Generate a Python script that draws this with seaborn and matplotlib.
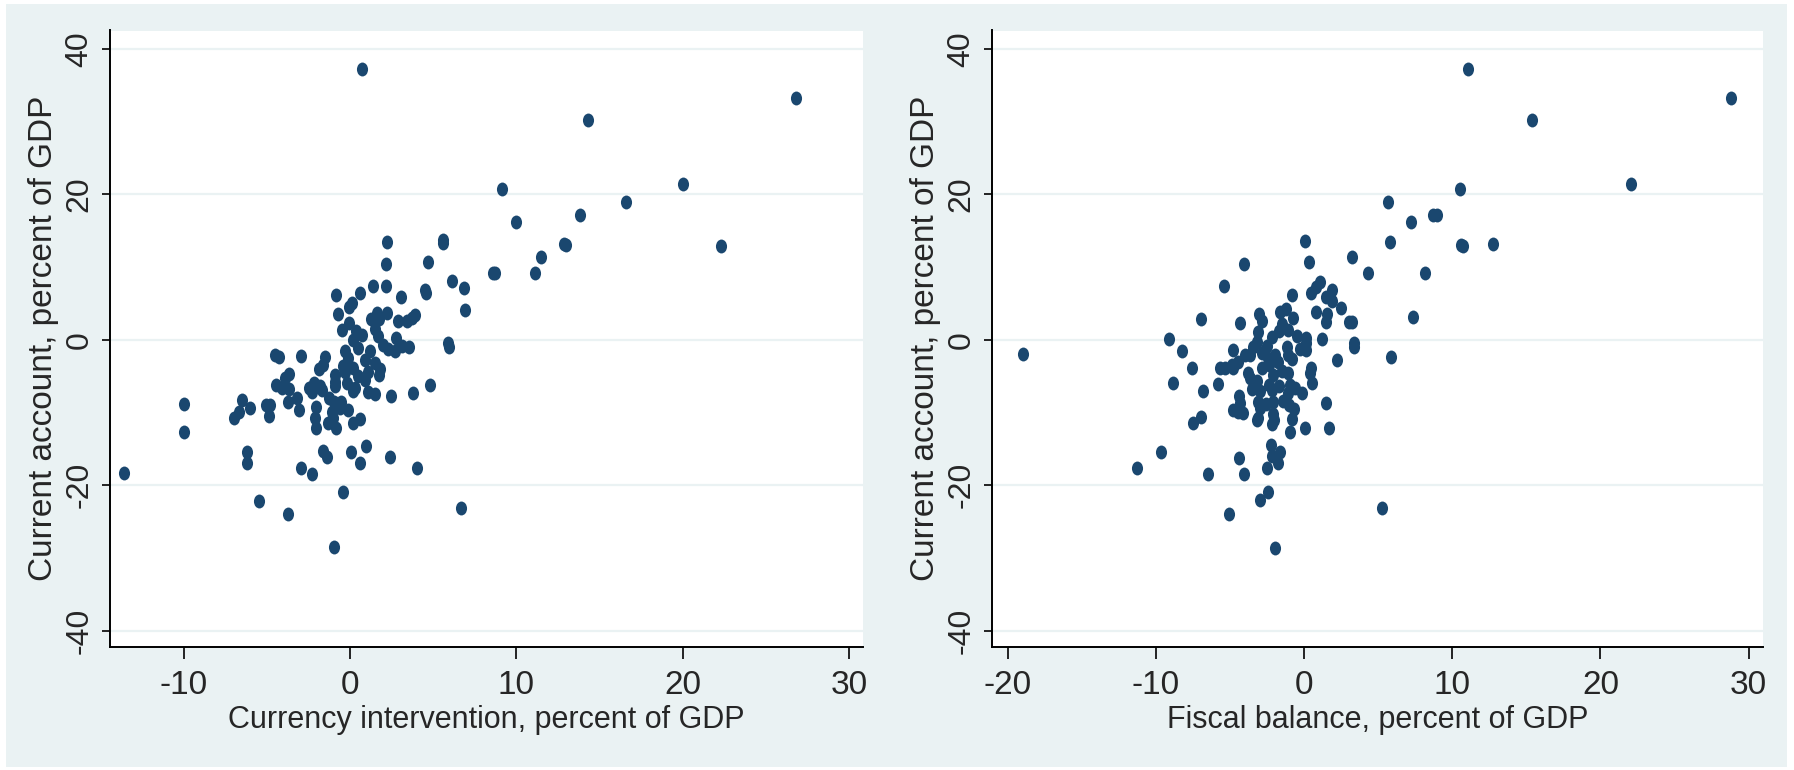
import numpy as np
import pandas as pd
import matplotlib
matplotlib.use("Agg")
import matplotlib.pyplot as plt
from matplotlib.path import Path
from matplotlib.patches import Rectangle
import seaborn as sns

# ---- data ----
# left panel: currency intervention (x) vs current account (y), % of GDP
interv_x = [0.73, 26.8, 14.3, 9.15, 20.0, 16.6, 13.85, 9.95, 2.2, 5.6, 5.6, 12.85, 13.0, 22.3,
            11.5, 4.7, 2.18, 8.6, 8.7, 11.15, 6.15, 6.85, 4.5, 4.55, 6.9, 5.9, 5.95, -13.6,
            -10.0, -10.0, 6.65, -0.95, -3.72, -5.45, -0.4, 4.05, 2.4, 0.95, 0.6, 0.05, -1.38,
            -1.62, -2.95, -2.27, -6.18, -6.18, 2.45, 3.8, 4.8, -0.85, 0.6, 1.4, 2.16, 3.06,
            0.1, -0.05, -0.73, 1.64, 2.2, 1.24, 1.75, -0.05, -0.47, 2.9, 3.4, 3.7, 3.9, 0.35,
            0.7, 1.5, 1.7, 2.75, 3.1, 3.55, 2.3, 2.0, 0.2, 0.5, 1.2, -0.3, -0.1, 0.9, 1.5,
            -0.4, 0.2, 1.1, 1.8, 0.5, 1.75, -0.9, -0.9, -1.5, -1.6, -1.85, -2.95, -4.5, -4.25,
            -3.7, -3.9, -4.45, -4.1, -2.15, -2.45, -1.7, -0.9, 0.3, 1.05, 1.5, 0.2, -3.75,
            -3.2, -3.05, -2.07, -2.1, -2.07, -1.25, -0.95, -0.6, -1.1, -1.05, -1.35, -0.85,
            -0.55, -0.15, 0.15, 0.6, -6.5, -6.0, -6.7, -7.0, -5.05, -4.8, -4.85, -3.7, -2.3,
            -1.8, -0.3, -0.2, 0.9, 2.7]
interv_y = [37.3, 33.3, 30.3, 20.8, 21.4, 19.0, 17.1, 16.2, 13.5, 13.7, 13.3, 13.2, 13.1, 12.9,
            11.4, 10.7, 10.45, 9.2, 9.2, 9.2, 8.1, 7.1, 6.8, 6.4, 4.05, -0.4, -1.0, -18.35,
            -8.8, -12.75, -23.1, -28.5, -24.0, -22.2, -21.0, -17.6, -16.1, -14.6, -17.0,
            -15.45, -16.1, -15.3, -17.6, -18.4, -15.45, -17.0, -7.8, -7.3, -6.2, 6.2, 6.5,
            7.4, 7.4, 5.9, 5.0, 4.5, 3.5, 3.75, 3.75, 2.8, 2.8, 2.35, 1.35, 2.6, 2.6, 3.0,
            3.4, 1.2, 0.6, 1.5, 0.5, 0.2, -0.9, -1.0, -1.3, -0.7, 0.0, -1.2, -1.6, -1.6, -2.5,
            -2.8, -3.2, -3.6, -3.9, -4.4, -4.0, -5.0, -4.8, -4.8, -5.8, -2.4, -3.5, -4.0, -2.3,
            -2.1, -2.4, -4.7, -5.3, -6.2, -6.6, -6.0, -6.7, -6.9, -6.4, -6.6, -7.2, -7.4,
            -7.0, -8.5, -8.0, -9.6, -9.2, -10.8, -12.2, -8.0, -8.6, -9.4, -9.9, -10.8, -11.4,
            -12.1, -8.5, -9.6, -11.5, -10.9, -8.3, -9.4, -9.9, -10.8, -9.0, -9.0, -10.5, -6.8,
            -7.2, -6.3, -4.4, -6.0, -5.5, -1.6]

# right panel: fiscal balance (x) vs current account (y), % of GDP
fiscal_x = [11.06, 28.8, 15.37, 10.55, 22.03, 5.66, 8.7, 8.95, 7.24, 0.08, 5.82, 10.6, 10.7,
            12.75, 3.24, -4.04, 0.31, 4.28, 8.13, -5.4, -0.8, 0.46, 0.78, 1.1, 1.5, 1.85,
            1.85, 2.5, -6.97, 7.36, 0.78, 1.55, 1.5, 3.0, 3.2, -4.3, -9.13, 1.23, 3.39, 3.39,
            5.86, 2.25, -18.99, -8.24, -7.59, -8.86, -6.82, -5.82, -6.97, -7.47, -9.63,
            -11.29, -6.47, -4.39, -4.04, -5.05, -3.0, -2.47, -1.96, 5.28, 0.45, 0.52, 1.5,
            1.7, 0.08, -0.96, -0.85, -0.17, 0.15, 0.1, 0.12, -2.25, -1.6, -2.2, -1.75, -2.5,
            -2.05, -2.15, -3.2, -4.79, -4.45, -4.16, -4.38, -4.3, -5.69, -5.35, -4.79, -4.79,
            -3.05, -2.85, -2.2, -1.65, -1.2, -0.75, -1.5, -1.1, -0.5, -3.1, -3.2, -3.43, -3.66,
            -4.0, -4.45, -4.9, -2.87, -2.43, -1.97, -1.75, -1.18, -1.07, -2.87, -2.4, -2.1,
            -1.5, -1.07, -0.96, -3.66, -3.2, -3.5, -3.0, -2.4, -2.15, -1.7, -1.1, -0.6, -3.1,
            -2.98, -2.6, -2.1, -1.4, -0.7, -1.0, -3.1, -2.08, -3.8, -0.3, 0.4, -1.7, -2.5,
            -0.8]
fiscal_y = [37.3, 33.3, 30.3, 20.8, 21.45, 19.0, 17.1, 17.1, 16.25, 13.6, 13.5, 13.0, 12.85,
            13.2, 11.4, 10.45, 10.7, 9.2, 9.2, 7.4, 6.2, 6.5, 7.3, 8.0, 5.9, 6.85, 5.3, 4.35,
            2.8, 3.2, 3.8, 3.5, 2.5, 2.4, 2.4, 2.3, 0.07, 0.07, -0.4, -1.0, -2.4, -2.8, -1.9,
            -1.5, -3.9, -6.0, -7.0, -6.1, -10.6, -11.5, -15.45, -17.6, -18.4, -16.25, -18.4,
            -24.0, -22.1, -21.0, -28.6, -23.1, -3.9, -6.0, -8.75, -12.1, -12.1, -12.75, -10.9,
            -7.3, 0.3, -0.5, -1.45, -14.5, -15.4, -16.0, -16.9, -17.6, -11.0, -11.6, -11.1,
            -9.6, -9.9, -10.1, -7.8, -8.7, -3.9, -3.9, -3.9, -1.4, 3.6, 2.6, 0.4, 3.8, 4.2,
            3.0, 2.2, 1.35, 0.45, 1.1, -0.25, -0.94, -2.1, -2.1, -3.0, -3.45, -1.85, -2.5,
            -2.1, -3.0, -0.94, -2.1, -3.9, -3.5, -4.8, -4.3, -4.6, -6.2, -5.3, -5.7, -6.8,
            -7.0, -6.2, -6.9, -6.4, -7.3, -6.6, -8.5, -9.4, -8.9, -8.6, -8.4, -9.5, -9.0,
            -10.8, -10.2, -4.6, -1.3, -4.6, 1.2, -0.8, -2.7]

y_ticks = [-40, -20, 0, 20, 40]
left_xticks = [-10, 0, 10, 20, 30]
right_xticks = [-20, -10, 0, 10, 20, 30]
y_label = "Current account, percent of GDP"
left_xlabel = "Currency intervention, percent of GDP"
right_xlabel = "Fiscal balance, percent of GDP"

navy = "#1A476F"
bg = "#EAF2F3"

sns.set_theme(style="white")
plt.rcParams["font.family"] = ["Liberation Sans", "DejaVu Sans"]

# Stata draws slightly tall dots; use an elliptical marker
circ = Path.unit_circle()
dot = Path(circ.vertices * np.array([0.8, 1.0]), circ.codes)

left_df = pd.DataFrame({"x": interv_x, "y": interv_y})
right_df = pd.DataFrame({"x": fiscal_x, "y": fiscal_y})

W, H = 1794, 770
fig = plt.figure(figsize=(W / 100, H / 100), dpi=100, facecolor="white")
fig.patches.append(Rectangle((6 / W, 3 / H), 1781 / W, 763 / H, transform=fig.transFigure,
                             facecolor=bg, edgecolor="none", zorder=-10))

ax1 = fig.add_axes([110 / W, 123 / H, 753 / W, 616.5 / H])
ax2 = fig.add_axes([992 / W, 123 / H, 771 / W, 616.5 / H])

panels = [
    (ax1, left_df, left_xticks, left_xlabel, (-14.44, 30.85)),
    (ax2, right_df, right_xticks, right_xlabel, (-21.07, 30.97)),
]

for ax, df, xt, xl, xlim in panels:
    ax.set_facecolor("white")
    for y in y_ticks:
        ax.axhline(y, color=bg, lw=1.6, zorder=0)
    sns.scatterplot(data=df, x="x", y="y", ax=ax, marker=dot, s=100, color=navy,
                    linewidth=0, alpha=1, zorder=3)
    ax.set_xlim(*xlim)
    ax.set_ylim(-42.27, 42.55)
    ax.set_xticks(xt)
    ax.set_yticks(y_ticks)
    ax.set_xticklabels([str(v) for v in xt], fontsize=24)
    ax.set_yticklabels([str(v) for v in y_ticks], fontsize=23, rotation=90, va="center")
    ax.tick_params(axis="x", direction="out", length=8.6, width=1.2, color="black", pad=8,
                   bottom=True)
    ax.tick_params(axis="y", direction="out", length=6, width=1.2, color="black", pad=5,
                   left=True)
    ax.set_xlabel(xl, fontsize=22, labelpad=3)
    ax.set_ylabel(y_label, fontsize=24, labelpad=4)
    for side in ["top", "right"]:
        ax.spines[side].set_visible(False)
    for side in ["left", "bottom"]:
        ax.spines[side].set_color("black")
        ax.spines[side].set_linewidth(1.4)
    ax.grid(False)

fig.savefig("out.png", dpi=100, facecolor=fig.get_facecolor())
